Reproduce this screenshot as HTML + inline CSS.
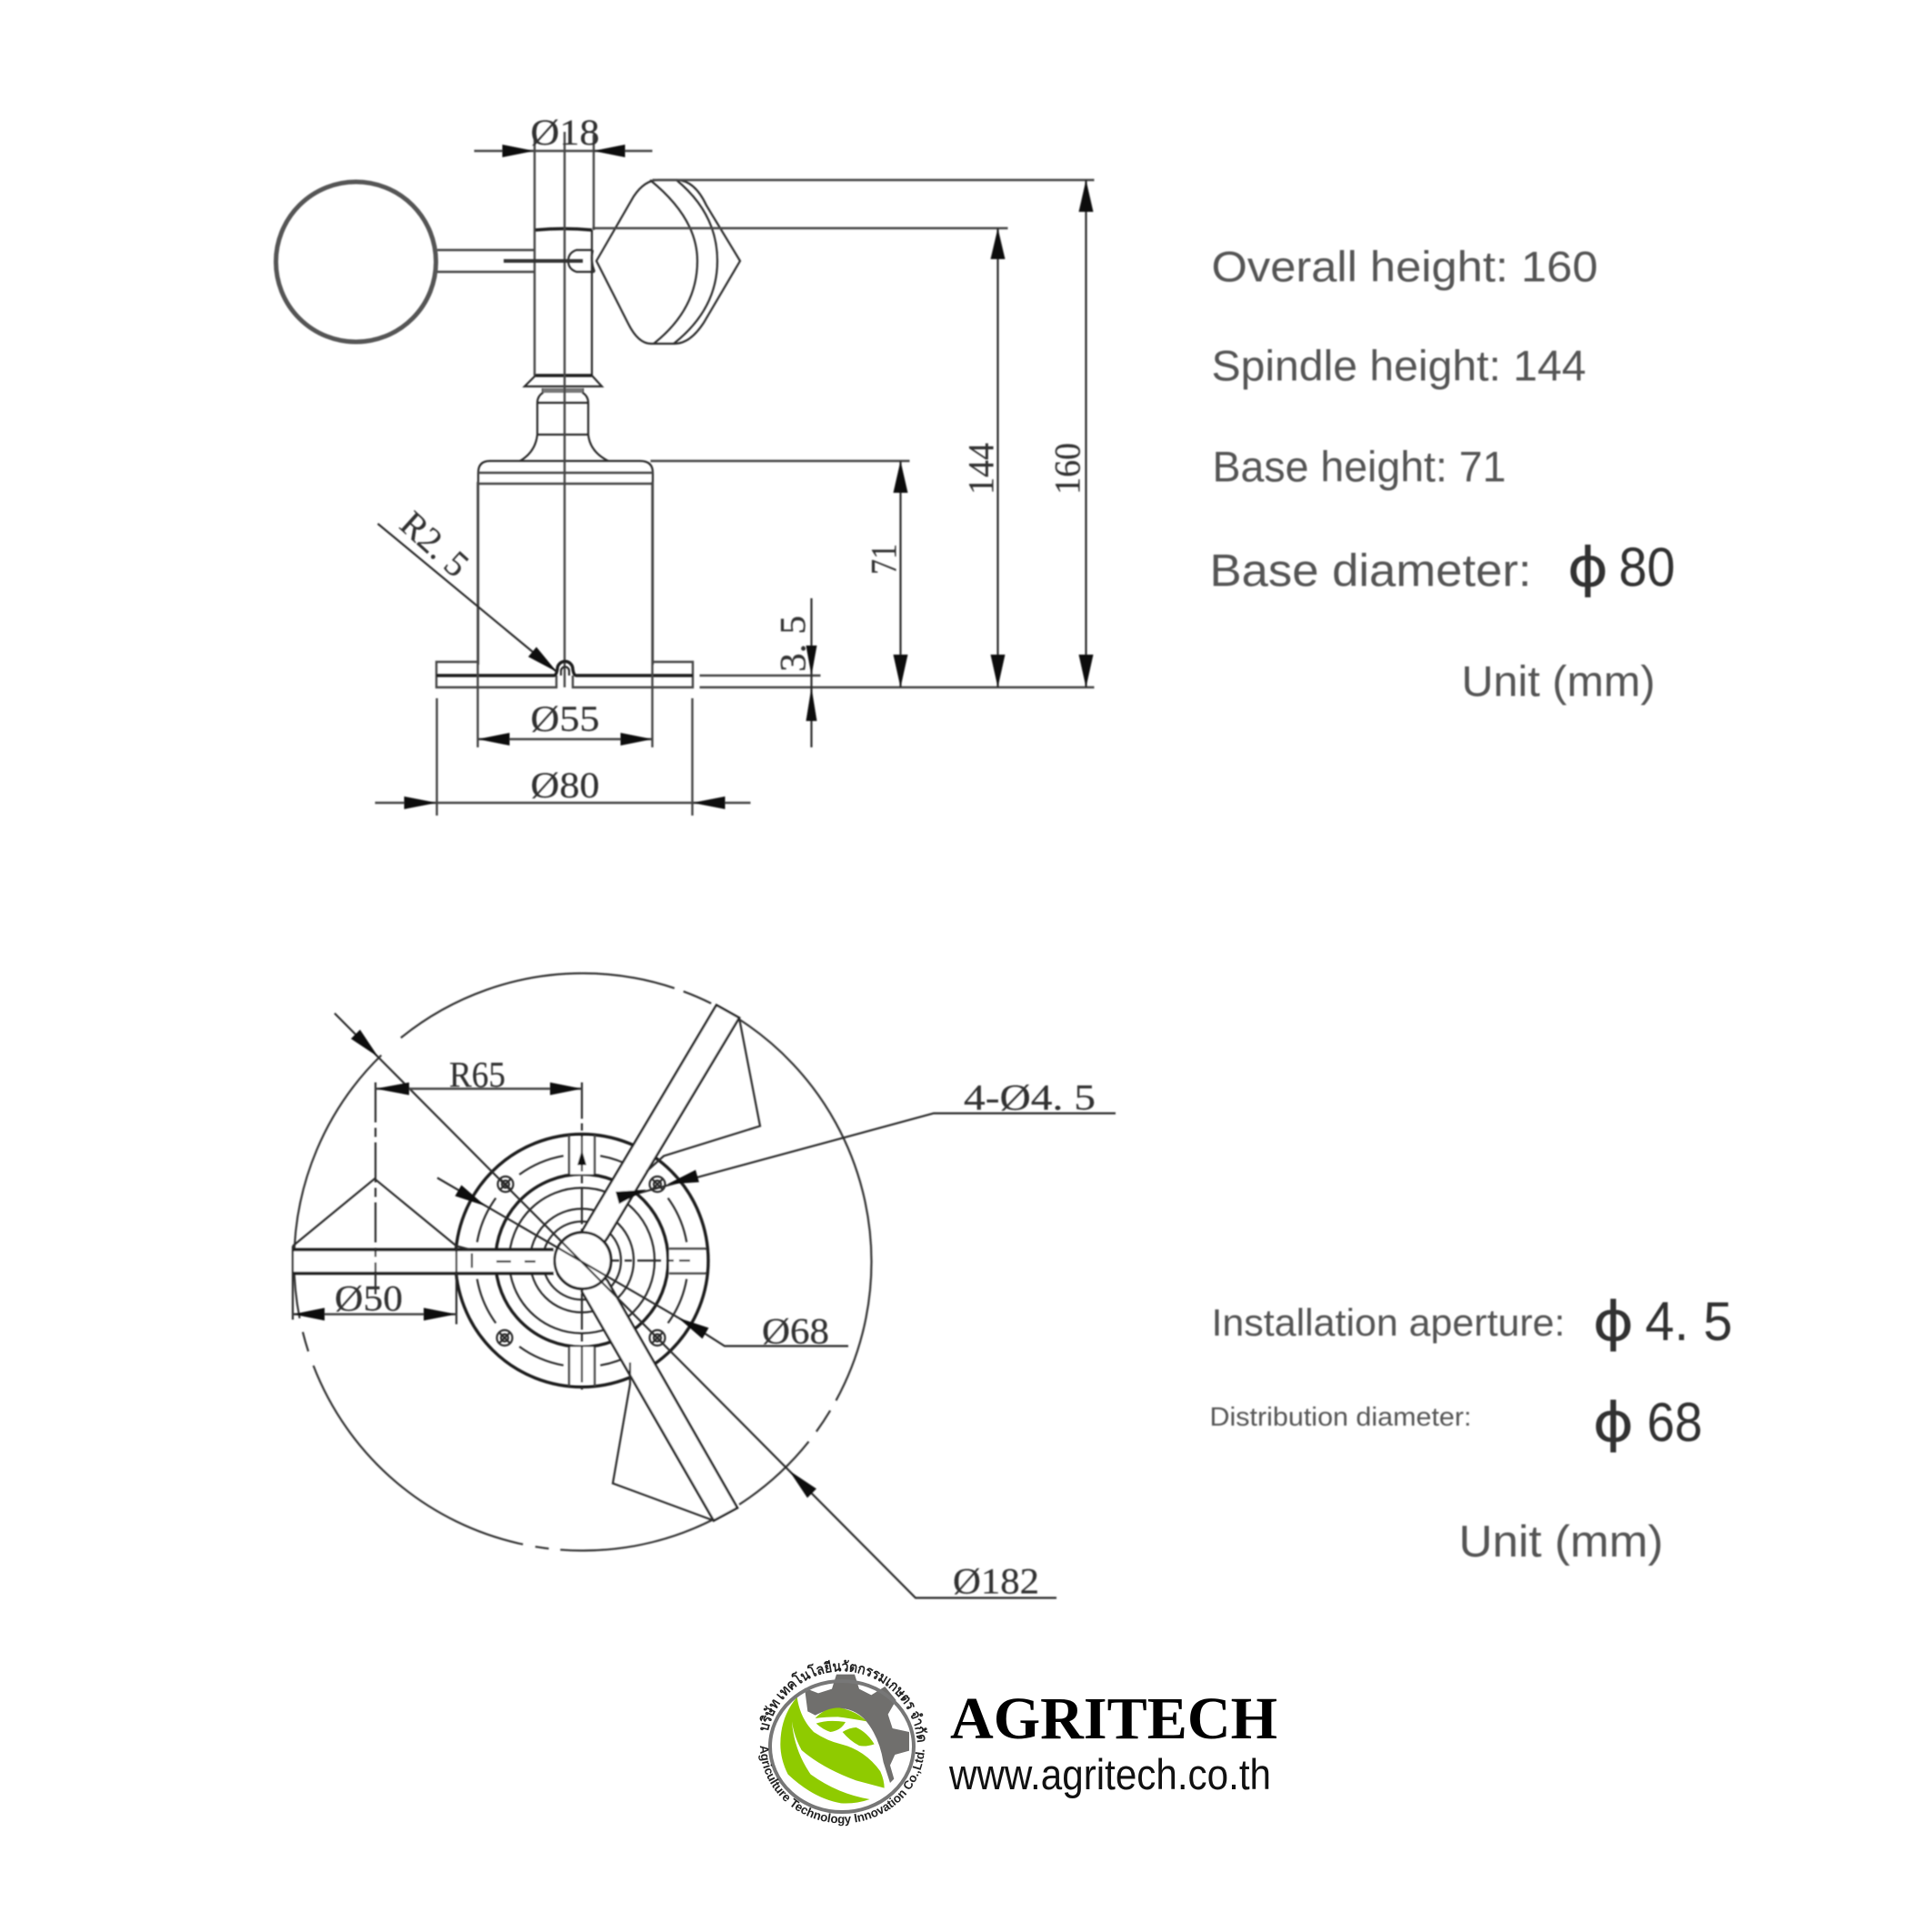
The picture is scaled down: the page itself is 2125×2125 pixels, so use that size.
<!DOCTYPE html>
<html><head><meta charset="utf-8"><title>Wind speed sensor dimensions</title>
<style>html,body{margin:0;padding:0;background:#fff}svg{display:block}
.d{fill:none;stroke:#2a2a2a;stroke-width:2.2}
.h{fill:none;stroke:#444;stroke-width:2.4}
.t{fill:none;stroke:#1c1c1c;stroke-width:3.4}
.w{fill:#fff;stroke:#222;stroke-width:2.6}
.a{fill:#111;stroke:none}
.s{font-family:"Liberation Serif",serif;font-size:40px;fill:#333;stroke:#333;stroke-width:.2}
.r{font-family:"Liberation Sans",sans-serif;fill:#555}
.v{font-family:"Liberation Sans",sans-serif;fill:#333;font-size:60px}
.p{font-family:"DejaVu Sans",sans-serif;fill:#333;font-size:60px}
</style></head><body>
<svg xmlns="http://www.w3.org/2000/svg" width="2125" height="2125" viewBox="0 0 2125 2125">
<defs><filter id="b" filterUnits="userSpaceOnUse" x="0" y="0" width="2125" height="2125"><feGaussianBlur stdDeviation="0.7"/></filter>
<filter id="c" filterUnits="userSpaceOnUse" x="0" y="0" width="2125" height="2125"><feGaussianBlur stdDeviation="0.9"/></filter>
<path id="tp" d="M844.6 1905A83 83 0 0 1 1007.4 1905A83 83 0 0 1 1006 1945"/>
<path id="bp" d="M836 1920A90 85 0 0 0 1017 1920"/>
</defs>
<rect width="2125" height="2125" fill="#fff"/>

<g filter="url(#b)">
<g transform="translate(-1,-2)">
<!-- FRONT VIEW: body -->
<circle cx="392.5" cy="290" r="88" fill="none" stroke="#555" stroke-width="5"/>
<path class="h" d="M482 277H590M482 301H590"/>
<path class="h" d="M589 147V415M654 150V255" />
<path class="d" d="M652 255V415"/>
<path class="t" d="M590 255Q621 252 652 255M590 415H652"/>
<path class="d" d="M590 415L578 427H663L652 415M598 429V434Q592 438 592 445V480Q590 499 573 509M642 429V434Q648 438 648 445V480Q650 499 670 509M592 445H648M592 480H648"/>
<path d="M598 429H642V434H598Z" fill="#777"/>
<path class="d" d="M527 733V522Q527 509 540 509H705Q719 509 719 522V733"/>
<path class="h" d="M527 522H719M527 534H719"/>
<path class="h" d="M622 147V758" stroke-width="2"/>
<path class="d" d="M653 277H635Q626 280 626 289Q626 298 635 301H655M653 277Q650 289 655 301"/>
<path d="M555 289H642" stroke="#333" stroke-width="4"/>
<path class="d" d="M657 289L698 218Q710 200 725 200H745Q765 200 778 228L815 289L775 357Q760 380 743 380H717Q703 380 692 358L657 289Z"/>
<path class="d" d="M716 200Q768 242 768 289Q768 342 720 380"/>
<path class="d" d="M745 200Q790 237 790 289Q790 342 742 380"/>
<path class="h" d="M527 730H481V758H613V745M719 730H763V758H631V745"/>
<path class="t" d="M481 745H610Q613 745 614 738A8.5 8.5 0 0 1 631 738Q632 745 635 745H763" stroke-width="3"/>
<path class="d" d="M618 745V740A4.5 4.5 0 0 1 627 740V745"/>
</g>
<g transform="translate(-2.5,-4)">
<!-- FRONT VIEW: dimensions -->
<path class="h" d="M720 202H1206M654 255H1111M718 511H1003M772 760H1206M772 747H905"/>
<path class="d" d="M1197 202V760M1100 255V760M993 511V760M895 662V826"/>
<polygon class="a" points="1197,202 1189,237 1205,237"/><polygon class="a" points="1197,760 1189,724 1205,724"/>
<polygon class="a" points="1100,255 1092,289 1108,289"/><polygon class="a" points="1100,760 1092,724 1108,724"/>
<polygon class="a" points="993,511 985,546 1001,546"/><polygon class="a" points="993,760 985,724 1001,724"/>
<polygon class="a" points="895,747 889,714 901,714"/><polygon class="a" points="895,760 889,797 901,797"/>
<path class="h" d="M524 170H720"/>
<polygon class="a" points="590,170 555,163 555,177"/><polygon class="a" points="655,170 690,163 690,177"/>
<path class="h" d="M528 534V826M720 534V826M528 817H720"/>
<polygon class="a" points="528,817 563,810 563,824"/><polygon class="a" points="720,817 685,810 685,824"/>
<path class="h" d="M483 772V901M764 772V901M415 887H828"/>
<polygon class="a" points="483,887 447,880 447,894"/><polygon class="a" points="764,887 800,880 800,894"/>
<path class="d" d="M418 580L615 743"/>
<polygon class="a" points="615,743 583.5,726.4 592.5,715.6"/>
<text class="s" x="586" y="163" textLength="76" lengthAdjust="spacingAndGlyphs">Ø18</text>
<text class="s" x="586" y="808" textLength="76" lengthAdjust="spacingAndGlyphs">Ø55</text>
<text class="s" x="586" y="881" textLength="76" lengthAdjust="spacingAndGlyphs">Ø80</text>
<text class="s" transform="rotate(42 448 575)" x="448" y="587" textLength="85" lengthAdjust="spacingAndGlyphs">R2. 5</text>
<text class="s" transform="rotate(-90 988 636)" x="988" y="636" textLength="34" lengthAdjust="spacingAndGlyphs">71</text>
<text class="s" transform="rotate(-90 1095 548)" x="1095" y="548" textLength="57" lengthAdjust="spacingAndGlyphs">144</text>
<text class="s" transform="rotate(-90 1190 548)" x="1190" y="548" textLength="57" lengthAdjust="spacingAndGlyphs">160</text>
<text class="s" transform="rotate(-90 888 743)" x="888" y="743" textLength="62" lengthAdjust="spacingAndGlyphs">3. 5</text>
</g>

<g transform="translate(-1,-1.5)">
<!-- TOP VIEW -->
<circle cx="642" cy="1389.5" r="317.5" fill="none" stroke="#333" stroke-width="2.2" pathLength="360" stroke-dasharray="28.7 2.3 5 2.5 18.7 5.8 31.5 2.3 2.7 2.5 57 3 4 2.8 57 5.2 57.6 1.9 6 6.1 57.4 0"/>
<circle class="t" cx="641" cy="1388" r="139"/>
<circle class="d" cx="641" cy="1388" r="117" stroke-width="2.4" pathLength="360" stroke-dasharray="0 10 26 18 26 10"/>
<circle class="t" cx="641" cy="1388" r="95"/>
<circle class="d" cx="641" cy="1388" r="80" stroke-width="2.6"/>
<circle class="d" cx="641" cy="1388" r="57" stroke-width="2.6"/>
<circle class="d" cx="641" cy="1388" r="43" stroke-width="2.6"/>
<g class="d" stroke-width="1.8">
<circle cx="557" cy="1304" r="8.5"/><circle cx="557" cy="1304" r="4"/><path d="M551 1298L563 1310M563 1298L551 1310"/>
<circle cx="724" cy="1304" r="8.5"/><circle cx="724" cy="1304" r="4"/><path d="M718 1298L730 1310M730 1298L718 1310"/>
<circle cx="556" cy="1473" r="8.5"/><circle cx="556" cy="1473" r="4"/><path d="M550 1467L562 1479M562 1467L550 1479"/>
<circle cx="724" cy="1473" r="8.5"/><circle cx="724" cy="1473" r="4"/><path d="M718 1467L730 1479M730 1467L718 1479"/>
</g>
<rect x="627" y="1252" width="28" height="41" fill="#fff"/><rect x="627" y="1483" width="28" height="41" fill="#fff"/><rect x="737" y="1376" width="39" height="25" fill="#fff"/>
<path class="h" d="M627 1250V1293M655 1250V1293M627 1483V1526M655 1483V1526M737 1375H778M737 1402H778"/>
<path class="d" d="M641 1192V1530" stroke-width="1.6" stroke-dasharray="40 5 8 5"/>
<path class="d" d="M610 1388H760" stroke-width="1.6" stroke-dasharray="26 6 8 6"/>
<polygon class="a" points="641,1266 636,1283 646,1283"/>
<!-- blades -->
<polygon class="w" points="641,1356 789,1107 814,1121 669,1363 650,1390"/>
<polygon class="w" points="641,1422 786,1674 812,1660 669,1410 650,1390"/>
<polyline class="d" points="814,1121 837,1240 731,1273 712,1290"/>
<polyline class="d" points="786,1674 675,1633 694,1524 694,1500"/>
<rect x="323" y="1375" width="290" height="27" fill="#fff"/>
<path class="t" d="M323 1376H610M323 1402H610" stroke-width="3"/>
<path class="d" d="M323 1372V1453M503 1372V1458"/>
<path class="d" d="M520 1380V1396M547 1389H563M578 1389H590" stroke-width="2"/>
<polyline class="d" points="323,1372 413,1298 503,1372 518,1376"/>
<path class="d" d="M414 1192V1425" stroke-width="2" stroke-dasharray="44 6 10 6"/>
<circle cx="642" cy="1388" r="31" fill="#fff" stroke="#222" stroke-width="3"/>
<path class="d" d="M369 1116L1008 1759H1163"/>
<path class="d" d="M482 1297L768 1463L798 1482H934"/>
<path class="d" d="M1228 1226H1028L681 1320" />
<path class="h" d="M414 1199H641M323 1447H503"/>
<polygon class="a" points="414,1199 451,1192 451,1206"/><polygon class="a" points="641,1199 606,1192 606,1206"/>
<polygon class="a" points="323,1447 358,1440 358,1454"/><polygon class="a" points="503,1447 467,1440 467,1454"/>
<polygon class="a" points="417,1164 387,1144 397,1134"/><polygon class="a" points="869,1619 889,1649 899,1639"/>
<polygon class="a" points="535,1328 501.5,1317 508.5,1305"/><polygon class="a" points="747,1451 773.5,1474 780.5,1462"/>
<polygon class="a" points="735,1304 769.9,1301.7 766.1,1288.3"/><polygon class="a" points="712,1310 681.9,1325.7 678.1,1312.3"/>
<text class="s" x="495" y="1197" textLength="62" lengthAdjust="spacingAndGlyphs">R65</text>
<text class="s" x="369" y="1443" textLength="75" lengthAdjust="spacingAndGlyphs">Ø50</text>
<text class="s" x="839" y="1479" textLength="74" lengthAdjust="spacingAndGlyphs">Ø68</text>
<text class="s" x="1049" y="1754" textLength="95" lengthAdjust="spacingAndGlyphs">Ø182</text>
<text class="s" x="1061" y="1222" textLength="145" lengthAdjust="spacingAndGlyphs">4-Ø4. 5</text>
</g>
</g>

<!-- RIGHT TEXT -->
<g filter="url(#c)">
<g transform="translate(-1.5,-1.5)">
<text class="r" x="1334" y="311" font-size="47" textLength="425" lengthAdjust="spacingAndGlyphs">Overall height: 160</text>
<text class="r" x="1334" y="420" font-size="47" textLength="412" lengthAdjust="spacingAndGlyphs">Spindle height: 144</text>
<text class="r" x="1335" y="531" font-size="47" textLength="323" lengthAdjust="spacingAndGlyphs">Base height: 71</text>
<text class="r" x="1332" y="646" font-size="50" textLength="354" lengthAdjust="spacingAndGlyphs">Base diameter:</text>
<text class="p" x="1725" y="646" textLength="46" lengthAdjust="spacingAndGlyphs">ϕ</text>
<text class="v" x="1782" y="646" textLength="62" lengthAdjust="spacingAndGlyphs">80</text>
<text class="r" x="1609" y="767" font-size="47" textLength="213" lengthAdjust="spacingAndGlyphs">Unit (mm)</text>
</g>
<g transform="translate(-1.5,0)">
<text class="r" x="1334" y="1469" font-size="42" textLength="389" lengthAdjust="spacingAndGlyphs">Installation aperture:</text>
<text class="p" x="1753" y="1474" textLength="46" lengthAdjust="spacingAndGlyphs">ϕ</text>
<text class="v" x="1811" y="1474" textLength="96" lengthAdjust="spacingAndGlyphs">4. 5</text>
<text class="r" x="1332" y="1568" font-size="29" textLength="288" lengthAdjust="spacingAndGlyphs">Distribution diameter:</text>
<text class="p" x="1753" y="1585" textLength="46" lengthAdjust="spacingAndGlyphs">ϕ</text>
<text class="v" x="1813" y="1585" textLength="61" lengthAdjust="spacingAndGlyphs">68</text>
<text class="r" x="1606" y="1712" font-size="49" textLength="225" lengthAdjust="spacingAndGlyphs">Unit (mm)</text>
</g>
</g>

<!-- LOGO -->
<g>
<g transform="translate(825,1825) scale(.33333)">
<path d="M180 95L225 112L270 98L285 50H345L360 98L400 118L445 90L482 135L455 182L470 228L525 240V302L478 315L462 350L475 395L462 408L440 340Q425 250 375 195Q310 135 215 185L190 172Z" fill="#706f6d"/>
<path d="M155 125Q165 195 210 240Q255 270 300 280Q380 300 430 370Q443 400 443 425L350 400Q240 360 170 300Q145 255 138 205Q145 300 200 380Q290 445 395 462Q350 478 300 475Q210 460 125 380Q100 330 100 280Q100 190 155 125Z" fill="#8fcb00"/>
<path d="M215 195Q245 160 295 160Q350 170 385 205Q330 195 290 190Q250 190 215 195Z" fill="#8fcb00"/>
<path d="M218 212Q255 198 315 207Q300 235 265 240Q240 232 218 212Z" fill="#8fcb00"/>
<path d="M305 240Q330 225 350 225Q385 240 410 280Q380 290 360 285Q330 270 305 240Z" fill="#8fcb00"/>
</g>
<ellipse cx="926" cy="1921" rx="79" ry="72" fill="none" stroke="#777" stroke-width="4"/>
<text font-family="'Noto Sans CJK SC','DejaVu Sans',sans-serif" font-size="15.5" font-weight="700" fill="#222"><textPath href="#tp" textLength="240" lengthAdjust="spacingAndGlyphs">บริษัท เทคโนโลยีนวัตกรรมเกษตร จำกัด</textPath></text>
<text font-family="'Liberation Sans',sans-serif" font-size="13.5" font-weight="700" fill="#222"><textPath href="#bp" textLength="272" lengthAdjust="spacingAndGlyphs">Agriculture Technology Innovation Co.,Ltd.</textPath></text>
<text x="1045" y="1912" font-family="'Liberation Serif',serif" font-size="66" font-weight="700" fill="#000" textLength="360" lengthAdjust="spacingAndGlyphs">AGRITECH</text>
<text x="1044" y="1968" font-family="'Liberation Sans',sans-serif" font-size="47" fill="#111" textLength="354" lengthAdjust="spacingAndGlyphs">www.agritech.co.th</text>
</g>
</svg>
</body></html>
